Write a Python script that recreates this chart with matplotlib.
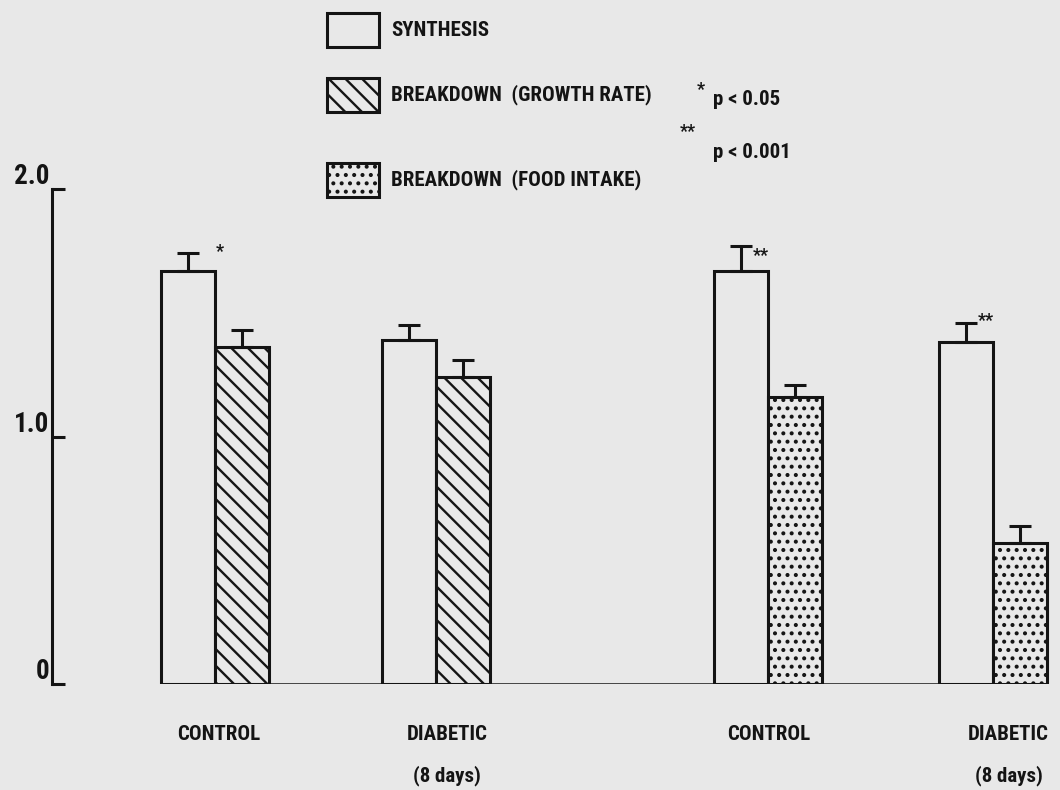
import matplotlib
matplotlib.use("Agg")
import matplotlib.pyplot as plt
from matplotlib import font_manager as fm
from matplotlib.patches import Rectangle
import numpy as np

# ---------------- data ----------------
group_labels = ["CONTROL", "DIABETIC", "CONTROL", "DIABETIC"]
group_sublabels = ["", "(8 days)", "", "(8 days)"]
synthesis = [1.67, 1.39, 1.67, 1.38]
synthesis_err = [0.07, 0.06, 0.10, 0.08]
breakdown_growth = [1.36, 1.24]          # groups 1-2
breakdown_growth_err = [0.07, 0.07]
breakdown_food = [1.16, 0.57]            # groups 3-4
breakdown_food_err = [0.05, 0.07]
sig_marks = ["*", "", "**", "**"]        # on synthesis bars
yticks = [0, 1.0, 2.0]
ytick_labels = ["0", "1.0", "2.0"]
legend_labels = ["SYNTHESIS", "BREAKDOWN  (GROWTH RATE)", "BREAKDOWN  (FOOD INTAKE)"]
p_labels = ["p < 0.05", "p < 0.001"]

# ---------------- font choice (narrow bold sans if available) ----------------
entries = [(f.name, f.stretch) for f in fm.fontManager.ttflist]
names = {n for n, _ in entries}
stretch = "normal"
family = None
for cand in ["Liberation Sans Narrow", "Roboto Condensed", "Open Sans Condensed",
             "Noto Sans Condensed", "DejaVu Sans Condensed", "Arial Narrow"]:
    if cand in names:
        family = cand
        break
if family is None:
    for n, s in entries:
        if n in ("DejaVu Sans", "Noto Sans", "Roboto", "Open Sans") and "condensed" in str(s):
            family, stretch = n, "condensed"
            break
if family is None:
    family = "Roboto" if "Roboto" in names else "DejaVu Sans"

plt.rcParams["font.family"] = [family, "DejaVu Sans"]
plt.rcParams["font.stretch"] = stretch
plt.rcParams["font.weight"] = "bold"
plt.rcParams["hatch.linewidth"] = 1.7

BG = "#e8e8e8"
INK = "#141414"
plt.rcParams["hatch.color"] = INK
LW = 2.2

fig = plt.figure(figsize=(10.6, 7.9), dpi=100, facecolor=BG)
W, H = 1060, 790

# size the text so that widths match the reference
renderer = fig.canvas.get_renderer()
probe = fig.text(0, 0, "BREAKDOWN  (GROWTH RATE)", fontsize=14)
wpx = probe.get_window_extent(renderer).width
probe.remove()
FS = min(15.0, 14.0 * 262.0 / wpx)

ax = fig.add_axes([52 / W, (H - 684) / H, (W - 52) / W, (684 - 189) / H])
ax.set_facecolor("none")

group_pos = np.array([0.0, 4.1, 10.25, 14.4])
bw = 1.0
ax.set_xlim(-3.02, 15.65)
ax.set_ylim(0, 2.0)

ekw = dict(fmt="none", ecolor=INK, elinewidth=LW, capsize=8, capthick=LW, zorder=4)

# synthesis bars
xs = group_pos - bw / 2
ax.bar(xs, synthesis, width=bw, facecolor=BG, edgecolor=INK, linewidth=LW, zorder=3)
ax.errorbar(xs, synthesis, yerr=[np.zeros(4), synthesis_err], **ekw)

# breakdown (growth rate)
xg = group_pos[:2] + bw / 2
ax.bar(xg, breakdown_growth, width=bw, facecolor=BG, edgecolor=INK, linewidth=LW,
       hatch="\\\\", zorder=3)
ax.errorbar(xg, breakdown_growth, yerr=[np.zeros(2), breakdown_growth_err], **ekw)

# breakdown (food intake)
xf = group_pos[2:] + bw / 2
ax.bar(xf, breakdown_food, width=bw, facecolor=BG, edgecolor=INK, linewidth=LW,
       hatch="..", zorder=3)
ax.errorbar(xf, breakdown_food, yerr=[np.zeros(2), breakdown_food_err], **ekw)

# significance marks (offsets in points from the error-bar cap)
sig_offsets = [(20, 1), (0, 0), (8, -7), (9, 1)]
for x, v, e, m, off in zip(xs, synthesis, synthesis_err, sig_marks, sig_offsets):
    if m:
        ax.annotate(m, xy=(x, v + e), xytext=off, textcoords="offset points",
                    ha="left", va="center", fontsize=FS * 0.85, color=INK,
                    annotation_clip=False)

# baseline
ax.hlines(0, group_pos[0] - bw, group_pos[-1] + bw, color=INK, linewidth=1.8, zorder=5)
ax.vlines(group_pos[-1], -0.05, 0, color=INK, linewidth=0.8)

# y axis
for s in ["top", "right", "bottom"]:
    ax.spines[s].set_visible(False)
ax.spines["left"].set_linewidth(LW)
ax.spines["left"].set_color(INK)
ax.set_yticks(yticks)
ax.set_yticklabels([])
ax.tick_params(axis="y", direction="in", length=9, width=LW, color=INK)
ax.set_xticks([])
for t, lab in zip(yticks, ytick_labels):
    ax.annotate(lab, xy=(0, t), xycoords=("axes fraction", "data"),
                xytext=(-2, 9), textcoords="offset points",
                ha="right", va="center", fontsize=FS * 1.3, color=INK)

# group labels
label_pos = group_pos + np.array([0.07, 0.2, 0.0, 0.3])
for x, lab, sub in zip(label_pos, group_labels, group_sublabels):
    ax.annotate(lab, xy=(x, 0), xytext=(0, -36), textcoords="offset points",
                ha="center", va="center", fontsize=FS, color=INK, annotation_clip=False)
    if sub:
        ax.annotate(sub, xy=(x, 0), xytext=(0, -66), textcoords="offset points",
                    ha="center", va="center", fontsize=FS, color=INK,
                    annotation_clip=False)

# ---------------- legend (overlay in pixel units) ----------------
ov = fig.add_axes([0, 0, 1, 1], facecolor="none")
ov.set_xlim(0, W)
ov.set_ylim(H, 0)
ov.axis("off")

legend_hatches = [None, "\\\\", ".."]
legend_y = [13, 78, 163]
for text, hatch, y0 in zip(legend_labels, legend_hatches, legend_y):
    ov.add_patch(Rectangle((327, y0), 52, 34, facecolor=BG, edgecolor=INK,
                           linewidth=LW, hatch=hatch))
    ov.text(391, y0 + 17, text, ha="left", va="center", fontsize=FS, color=INK)

ov.text(697, 90, "*", ha="left", va="center", fontsize=FS * 0.85, color=INK)
ov.text(713, 105, p_labels[0], ha="left", va="baseline", fontsize=FS, color=INK)
ov.text(680, 132, "**", ha="left", va="center", fontsize=FS * 0.85, color=INK)
ov.text(713, 158, p_labels[1], ha="left", va="baseline", fontsize=FS, color=INK)

fig.savefig("out.png", dpi=100, facecolor=BG)
